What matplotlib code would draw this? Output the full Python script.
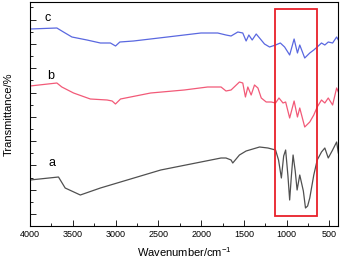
import numpy as np
import matplotlib
matplotlib.use("Agg")
from matplotlib import pyplot as plt
from matplotlib.patches import Rectangle
from matplotlib.ticker import MultipleLocator

plt.rcParams['font.family'] = ['Liberation Sans', 'DejaVu Sans']
plt.rcParams['mathtext.fontset'] = 'custom'
plt.rcParams['mathtext.rm'] = 'Liberation Sans'

# FTIR spectra, offset vertically (arbitrary transmittance units)
wn_c = [4000, 3686, 3609, 3510, 3334, 3177, 3060, 3000, 2950, 2790, 2394, 2002, 1806, 1709,
        1650, 1571, 1513, 1474, 1442, 1403, 1356, 1317, 1259, 1200, 1130, 1074, 1024, 965,
        913, 874, 847, 789, 730, 683, 643, 593, 554, 514, 463, 416, 396]
t_c = [197, 198, 194, 189, 186, 183, 183, 180, 184, 185, 189, 193, 193, 191,
       190, 194, 193, 185, 191, 186, 192, 188, 182, 179, 181, 183, 179, 171,
       187, 173, 181, 168, 173, 176, 179, 183, 181, 184, 183, 189, 186]

wn_b = [4000, 3686, 3628, 3491, 3295, 3099, 3040, 3001, 2942, 2590, 2198, 1924, 1767, 1709,
        1650, 1552, 1513, 1482, 1454, 1415, 1376, 1336, 1297, 1239, 1180, 1130, 1090, 1043,
        1012, 965, 913, 874, 847, 789, 730, 683, 643, 593, 554, 514, 463, 416, 396]
t_b = [140, 143, 139, 133, 127, 126, 125, 122, 127, 133, 136, 139, 139, 135,
       136, 144, 143, 129, 139, 131, 141, 138, 128, 124, 124, 123, 128, 123,
       124, 108, 125, 109, 118, 99, 104, 111, 119, 126, 123, 128, 121, 138, 134]

wn_a = [4000, 3667, 3589, 3412, 3177, 2942, 2472, 2002, 1767, 1709, 1650, 1630, 1552, 1474,
        1317, 1219, 1130, 1095, 1062, 1035, 1012, 985, 965, 945, 925, 900, 878, 847,
        805, 780, 755, 730, 683, 643, 593, 554, 514, 463, 416, 396]
t_a = [46, 49, 38, 31, 38, 44, 56, 64, 68, 68, 66, 63, 71, 75,
       79, 78, 76, 66, 48, 70, 76, 50, 26, 50, 71, 55, 36, 51,
       35, 18, 20, 28, 51, 66, 74, 78, 68, 76, 84, 73]

box_wn = (1133, 651)
box_t = (10, 217)

fig = plt.figure(figsize=(3.4, 2.61), dpi=100)
ax = fig.add_axes([30 / 340, 35 / 261, 308 / 340, 224 / 261])

ax.plot(wn_a, t_a, color='#505050', lw=0.9, solid_joinstyle='round')
ax.plot(wn_b, t_b, color='#f25a78', lw=0.9, solid_joinstyle='round')
ax.plot(wn_c, t_c, color='#5a68e0', lw=0.9, solid_joinstyle='round')

ax.add_patch(Rectangle((box_wn[1], box_t[0]), box_wn[0] - box_wn[1], box_t[1] - box_t[0],
                       fill=False, edgecolor='#e8202a', lw=1.3, zorder=5))

ax.text(3790, 208, 'c', fontsize=9, ha='center', va='center')
ax.text(3760, 150, 'b', fontsize=9, ha='center', va='center')
ax.text(3740, 63, 'a', fontsize=9, ha='center', va='center')

ax.set_xlim(4000, 400)
ax.set_ylim(0, 224)
ax.xaxis.set_major_locator(MultipleLocator(500))
ax.xaxis.set_minor_locator(MultipleLocator(250))
ax.set_yticks(np.arange(12, 224, 24.3))
ax.set_yticks(np.arange(24.15, 224, 24.3), minor=True)
ax.set_yticklabels([])
ax.tick_params(axis='both', which='major', direction='in', length=4, width=0.6, labelsize=6.5)
ax.tick_params(axis='both', which='minor', direction='in', length=2, width=0.6)
ax.tick_params(axis='x', pad=3)
for s in ax.spines.values():
    s.set_linewidth(0.8)

ax.set_xlabel('Wavenumber/cm$^{-1}$', fontsize=8, labelpad=4)
ax.set_ylabel('Transmittance/%', fontsize=8, labelpad=8)

fig.savefig('out.png', dpi=100)
